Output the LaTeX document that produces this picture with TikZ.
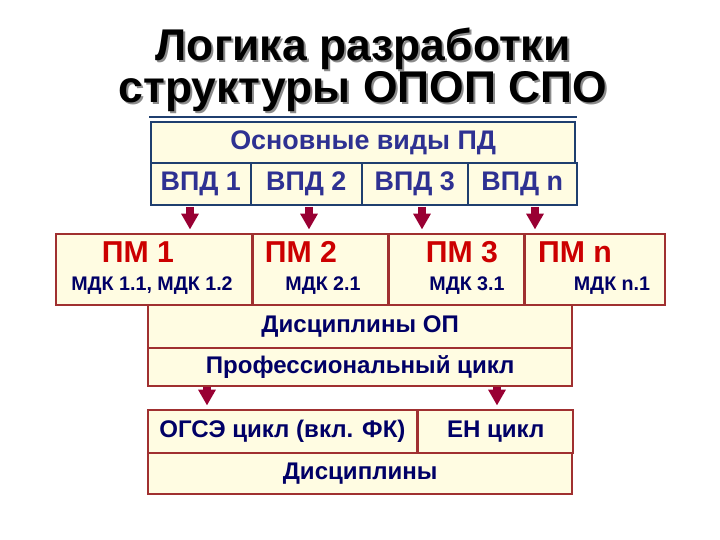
\documentclass[tikz,border=0pt]{standalone}
\usepackage{fontspec}
\setmainfont{Liberation Sans}
\usetikzlibrary{arrows.meta}

\definecolor{cellfill}{HTML}{FFFCE2}
\definecolor{blueline}{HTML}{1F3F6F}
\definecolor{redline}{HTML}{A03030}
\definecolor{arrowred}{HTML}{990033}
\definecolor{pmred}{HTML}{CC0000}
\definecolor{navytext}{HTML}{000066}
\definecolor{vpdtext}{HTML}{2E3192}

\begin{document}
\begin{tikzpicture}[x=0.02cm, y=-0.02cm,
                    cell/.style={draw, fill=cellfill, line width=1.1pt, anchor=north west,
                                 inner sep=0pt, font=\bfseries\fontsize{13.7}{16}\selectfont, text=navytext},
                    top cell/.style={cell, draw=blueline, text=vpdtext, font=\bfseries\fontsize{15.3}{17}\selectfont},
                    pm cell/.style={cell, draw=redline},
                    pm title/.style={font=\bfseries\fontsize{17.2}{19}\selectfont, text=pmred},
                    mdk/.style={font=\bfseries\fontsize{11.2}{13}\selectfont, text=navytext},
                    title text/.style={font=\bfseries\fontsize{25.3}{29}\selectfont},
                    arr/.style={arrowred, line width=4pt, -{Triangle[width=9.5pt, length=9pt]}}]

  \useasboundingbox (0,0) rectangle (720,540);

  % title with its shadow
  \node[title text, text=black!45, align=center] (title shadow) at (365,72) {Логика разработки\\[-5pt]структуры ОПОП СПО};
  \node[title text, align=center] (title) at (363,70) {Логика разработки\\[-5pt]структуры ОПОП СПО};
  \draw[blueline, line width=1pt] (149,117) -- (577,117);

  % main kinds of activity
  \node[top cell, minimum width=426*0.567pt, minimum height=41*0.567pt] (pd) at (150,121) {Основные виды ПД};
  \node[top cell, minimum width=100*0.567pt, minimum height=42*0.567pt] (vpd1) at (150,162) {ВПД 1};
  \node[top cell, minimum width=111*0.567pt, minimum height=42*0.567pt] (vpd2) at (250,162) {ВПД 2};
  \node[top cell, minimum width=106*0.567pt, minimum height=42*0.567pt] (vpd3) at (361,162) {ВПД 3};
  \node[top cell, minimum width=109*0.567pt, minimum height=42*0.567pt] (vpdn) at (467,162) {ВПД n};

  % professional modules
  \node[pm cell, minimum width=197*0.567pt, minimum height=71*0.567pt] (pm1) at (55,233) {};
  \node[pm cell, minimum width=136*0.567pt, minimum height=71*0.567pt] (pm2) at (252,233) {};
  \node[pm cell, minimum width=136*0.567pt, minimum height=71*0.567pt] (pm3) at (388,233) {};
  \node[pm cell, minimum width=141*0.567pt, minimum height=71*0.567pt] (pmn) at (524,233) {};

  \node[pm title] (pm1 t) at (138,252) {ПМ 1};
  \node[pm title] (pm2 t) at (301,252) {ПМ 2};
  \node[pm title] (pm3 t) at (462,252) {ПМ 3};
  \node[pm title] (pmn t) at (575,252) {ПМ n};
  \node[mdk] (mdk1) at (152,286) {МДК 1.1, МДК 1.2};
  \node[mdk] (mdk2) at (323,286) {МДК 2.1};
  \node[mdk] (mdk3) at (467,286) {МДК 3.1};
  \node[mdk] (mdkn) at (612,286) {МДК n.1};

  % professional cycle
  \node[pm cell, minimum width=426*0.567pt, minimum height=43*0.567pt] (op) at (147,304) {Дисциплины ОП};
  \node[pm cell, minimum width=426*0.567pt, minimum height=38*0.567pt] (prof) at (147,347) {Профессиональный цикл};

  % general cycles
  \node[pm cell, minimum width=270*0.567pt, minimum height=43*0.567pt] (ogse) at (147,409) {ОГСЭ цикл (вкл. ФК)\hspace{6pt}};
  \node[pm cell, minimum width=156*0.567pt, minimum height=43*0.567pt] (en) at (417,409) {ЕН цикл};
  \node[pm cell, minimum width=426*0.567pt, minimum height=41*0.567pt] (disc) at (147,452) {Дисциплины};

  \coordinate (a1) at (190,207);
  \coordinate (a2) at (309,207);
  \coordinate (a3) at (422,207);
  \coordinate (a4) at (535,207);
  \coordinate (b1) at (207,387);
  \coordinate (b2) at (497,387);

  \path[arr, shorten >=2pt]
    (a1) edge (a1 |- pm1.north)
    (a2) edge (a2 |- pm2.north)
    (a3) edge (a3 |- pm3.north)
    (a4) edge (a4 |- pmn.north)

    (b1) edge (b1 |- ogse.north)
    (b2) edge (b2 |- en.north);

\end{tikzpicture}
\end{document}
